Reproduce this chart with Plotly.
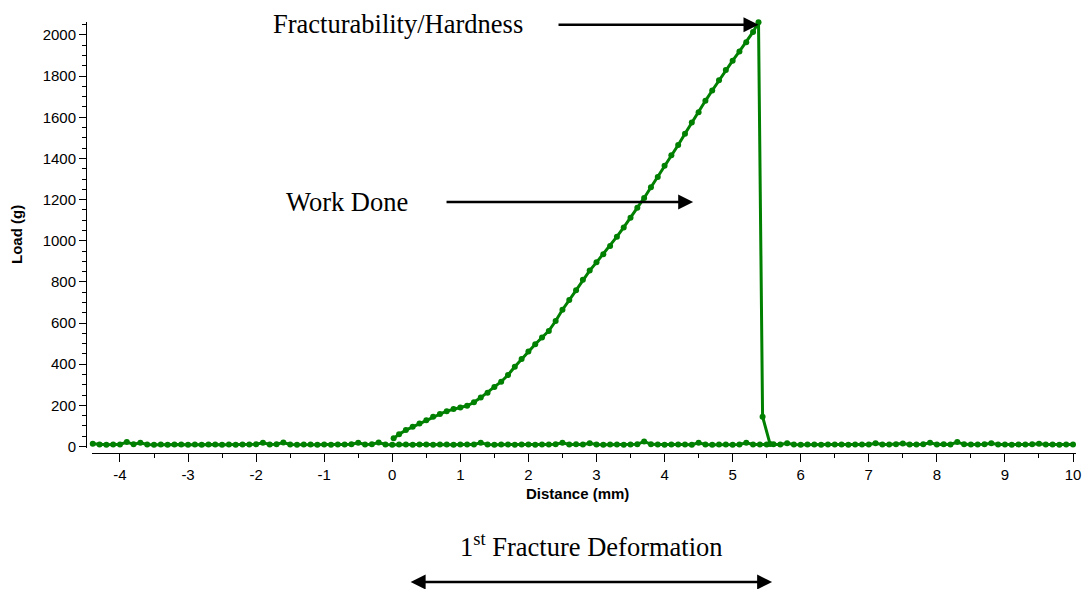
import plotly.graph_objects as go

# ---------------- data ----------------
# baseline (approach + withdrawal) sampled every 0.1 mm from -4.4 to 10.0 mm
baseline_start = -4.4
baseline_step = 0.1
baseline_load = [
    14, 10, 9, 10, 10, 22, 11, 18, 10, 9,
    10, 9, 10, 10, 9, 10, 9, 10, 10, 9,
    10, 9, 10, 10, 11, 18, 10, 11, 20, 10,
    9, 10, 10, 9, 10, 9, 10, 10, 11, 18,
    10, 11, 20, 10, 9, 10, 10, 9, 10, 10,
    9, 10, 10, 9, 10, 10, 10, 18, 10, 9,
    10, 10, 9, 10, 10, 9, 10, 10, 11, 18,
    10, 11, 10, 16, 10, 9, 10, 10, 9, 10,
    11, 25, 11, 10, 9, 10, 10, 10, 9, 18,
    10, 9, 10, 10, 9, 10, 18, 10, 10, 10,
    11, 10, 16, 10, 9, 10, 10, 9, 10, 10,
    10, 9, 10, 10, 10, 16, 10, 10, 11, 15,
    10, 10, 11, 18, 10, 11, 10, 22, 11, 10,
    10, 11, 16, 10, 10, 9, 10, 10, 11, 14,
    10, 10, 9, 10, 10,
]
baseline_distance = [round(baseline_start + baseline_step * i, 2) for i in range(len(baseline_load))]

# compression stroke (distance in mm, load in g)
compression_distance = [
    0.02, 0.1, 0.2, 0.3, 0.4, 0.5, 0.6, 0.7, 0.8, 0.9,
    1.0, 1.1, 1.2, 1.3, 1.4, 1.5, 1.6, 1.7, 1.8, 1.9,
    2.0, 2.1, 2.2, 2.3, 2.4, 2.5, 2.6, 2.7, 2.8, 2.9,
    3.0, 3.1, 3.2, 3.3, 3.4, 3.5, 3.6, 3.7, 3.8, 3.9,
    4.0, 4.1, 4.2, 4.3, 4.4, 4.5, 4.6, 4.7, 4.8, 4.9,
    5.0, 5.1, 5.2, 5.3, 5.38, 5.44, 5.55,
]
compression_load = [
    40, 60, 80, 96, 112, 128, 145, 158, 172, 182,
    190, 198, 215, 238, 262, 290, 315, 348, 388, 425,
    462, 497, 530, 562, 610, 665, 712, 760, 810, 855,
    895, 935, 975, 1020, 1065, 1112, 1160, 1208, 1260, 1310,
    1365, 1415, 1465, 1520, 1575, 1625, 1680, 1730, 1780, 1830,
    1875, 1920, 1965, 2015, 2062, 145, 12,
]

x_ticks = [-4, -3, -2, -1, 0, 1, 2, 3, 4, 5, 6, 7, 8, 9, 10]
x_tick_labels = ["-4", "-3", "-2", "-1", "0", "1", "2", "3", "4", "5", "6", "7", "8", "9", "10"]
y_ticks = [0, 200, 400, 600, 800, 1000, 1200, 1400, 1600, 1800, 2000]
y_tick_labels = ["0", "200", "400", "600", "800", "1000", "1200", "1400", "1600", "1800", "2000"]

GREEN = "#008000"
SANS = "Liberation Sans, Arial, sans-serif"
SERIF = "Liberation Serif, Times New Roman, serif"

fig = go.Figure()
fig.add_trace(go.Scatter(
    x=baseline_distance, y=baseline_load, mode="lines+markers",
    line=dict(color=GREEN, width=3), marker=dict(color=GREEN, size=6),
    showlegend=False, cliponaxis=False, hoverinfo="skip",
))
fig.add_trace(go.Scatter(
    x=compression_distance, y=compression_load, mode="lines+markers",
    line=dict(color=GREEN, width=3), marker=dict(color=GREEN, size=6),
    showlegend=False, cliponaxis=False, hoverinfo="skip",
))

peak_i = compression_load.index(max(compression_load))
peak_x = compression_distance[peak_i]
peak_y = compression_load[peak_i]

ARROW = dict(showarrow=True, arrowhead=2, arrowsize=1.2, arrowwidth=2.5, arrowcolor="black")

annotations = [
    # Fracturability / Hardness
    dict(x=0.08, y=2053, xref="x", yref="y", text="Fracturability/Hardness",
         showarrow=False, xanchor="center", yanchor="middle",
         font=dict(family=SERIF, size=26.5, color="black")),
    dict(x=peak_x, y=peak_y - 12, xref="x", yref="y", ax=2.42, ay=peak_y - 12,
         axref="x", ayref="y", text="", **ARROW),
    # Work done
    dict(x=-0.658, y=1188, xref="x", yref="y", text="Work Done",
         showarrow=False, xanchor="center", yanchor="middle",
         font=dict(family=SERIF, size=26.5, color="black")),
    dict(x=4.42, y=1188, xref="x", yref="y", ax=0.775, ay=1188,
         axref="x", ayref="y", text="", **ARROW),
    # 1st fracture deformation
    dict(x=2.93, y=-0.2128, xref="x", yref="paper",
         text="1<sup>st</sup> Fracture Deformation",
         showarrow=False, xanchor="center", yanchor="middle",
         font=dict(family=SERIF, size=26.5, color="black")),
    dict(x=5.58, y=-0.2993, xref="x", yref="paper", ax=-363, ay=0,
         axref="pixel", ayref="pixel", text="", arrowside="end+start", **ARROW),
    # axis titles
    dict(x=2.72, y=-0.0951, xref="x", yref="paper", text="<b>Distance (mm)</b>",
         showarrow=False, xanchor="center", yanchor="middle",
         font=dict(family=SANS, size=15, color="black")),
    dict(x=-0.0707, y=0.5058, xref="paper", yref="paper", text="<b>Load (g)</b>",
         showarrow=False, xanchor="center", yanchor="middle", textangle=-90,
         font=dict(family=SANS, size=15, color="black")),
]

fig.update_layout(
    width=1083, height=589, autosize=False,
    margin=dict(l=86, r=7, t=22, b=136, pad=0, autoexpand=False),
    paper_bgcolor="white", plot_bgcolor="white",
    showlegend=False, hovermode=False,
    annotations=annotations,
    xaxis=dict(
        domain=[6 / 990, 1], range=[-4.411, 10.044], anchor="free", position=0,
        automargin=False,
        showline=True, linecolor="black", linewidth=1, mirror=False,
        showgrid=False, zeroline=False,
        ticks="outside", ticklen=8, tickcolor="black", tickwidth=1,
        tickvals=x_ticks, ticktext=x_tick_labels,
        tickfont=dict(family=SANS, size=15, color="black"),
        minor=dict(ticks="outside", dtick=0.5, tick0=0, ticklen=4, tickcolor="black", showgrid=False),
    ),
    yaxis=dict(
        domain=[5 / 431, 1], range=[-7, 2063], anchor="free", position=0,
        automargin=False,
        showline=True, linecolor="black", linewidth=1,
        showgrid=False, zeroline=False,
        ticks="outside", ticklen=7, tickcolor="black", tickwidth=1,
        tickvals=y_ticks, ticktext=y_tick_labels,
        tickfont=dict(family=SANS, size=15, color="black"),
        minor=dict(ticks="outside", dtick=50, tick0=0, ticklen=4, tickcolor="black", showgrid=False),
    ),
)

fig.write_html(
    "out.html",
    config={"displayModeBar": False, "staticPlot": True},
    post_script="document.body.style.margin='0';document.body.style.overflow='hidden';",
)
